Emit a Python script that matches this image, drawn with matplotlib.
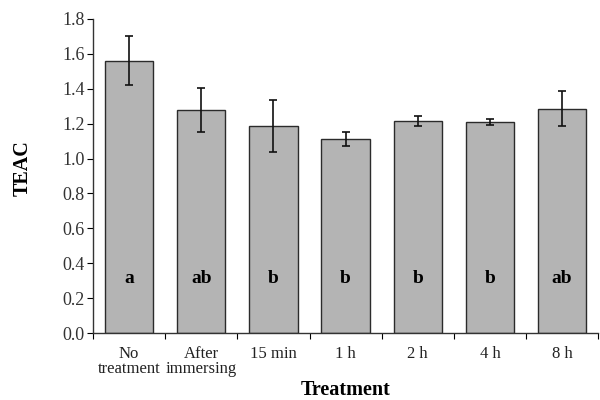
import numpy as np
import matplotlib
matplotlib.use("Agg")
import matplotlib.pyplot as plt

# TEAC per treatment
categories = ["No\ntreatment", "After\nimmersing", "15 min", "1 h", "2 h", "4 h", "8 h"]
teac = [1.56, 1.28, 1.185, 1.11, 1.215, 1.21, 1.285]
teac_err = [0.14, 0.125, 0.15, 0.04, 0.03, 0.018, 0.10]
letters = ["a", "ab", "b", "b", "b", "b", "ab"]

plt.rcParams['font.family'] = ['Liberation Serif', 'DejaVu Serif']

fig = plt.figure(figsize=(6, 4), dpi=100)
ax = fig.add_axes([0.155, 0.1675, 0.842, 0.785])

x = np.arange(len(categories))
ax.bar(x, teac, width=0.67, color="#b4b4b4", edgecolor="#2b2b2b", linewidth=1.0, zorder=2)
ax.errorbar(x, teac, yerr=teac_err, fmt="none", ecolor="#111111", elinewidth=1.2,
            capsize=3, capthick=1.2, zorder=3)

for xi, lab in zip(x, letters):
    ax.text(xi, 0.315, lab, ha="center", va="center", fontsize=14, fontweight="bold")

ax.set_xlim(-0.5, len(categories) - 0.5)
ax.set_ylim(0, 1.8)
ax.set_yticks(np.arange(0, 1.81, 0.2))
ax.set_yticklabels([f"{v:.1f}" for v in np.arange(0, 1.81, 0.2)], fontsize=13, color="#333333")

# boundary ticks on x, labels centred under bars
ax.set_xticks(np.arange(-0.5, len(categories), 1.0))
ax.set_xticklabels([])
ax.set_xticks(x, minor=True)
ax.set_xticklabels(categories, minor=True, fontsize=12, linespacing=0.95, color="#222222")
ax.tick_params(axis="x", which="minor", length=0, pad=9)
ax.tick_params(axis="x", which="major", length=4, direction="out")
ax.tick_params(axis="y", length=4, direction="out", pad=2)

for s in ["top", "right"]:
    ax.spines[s].set_visible(False)
for s in ["left", "bottom"]:
    ax.spines[s].set_color("#333333")
    ax.spines[s].set_linewidth(1.0)

ax.set_ylabel("TEAC", fontsize=14.5, fontweight="bold")
ax.yaxis.set_label_coords(-0.12, 0.525)
ax.set_xlabel("Treatment", fontsize=14.5, fontweight="bold", labelpad=2)

fig.savefig("out.png", dpi=100)
